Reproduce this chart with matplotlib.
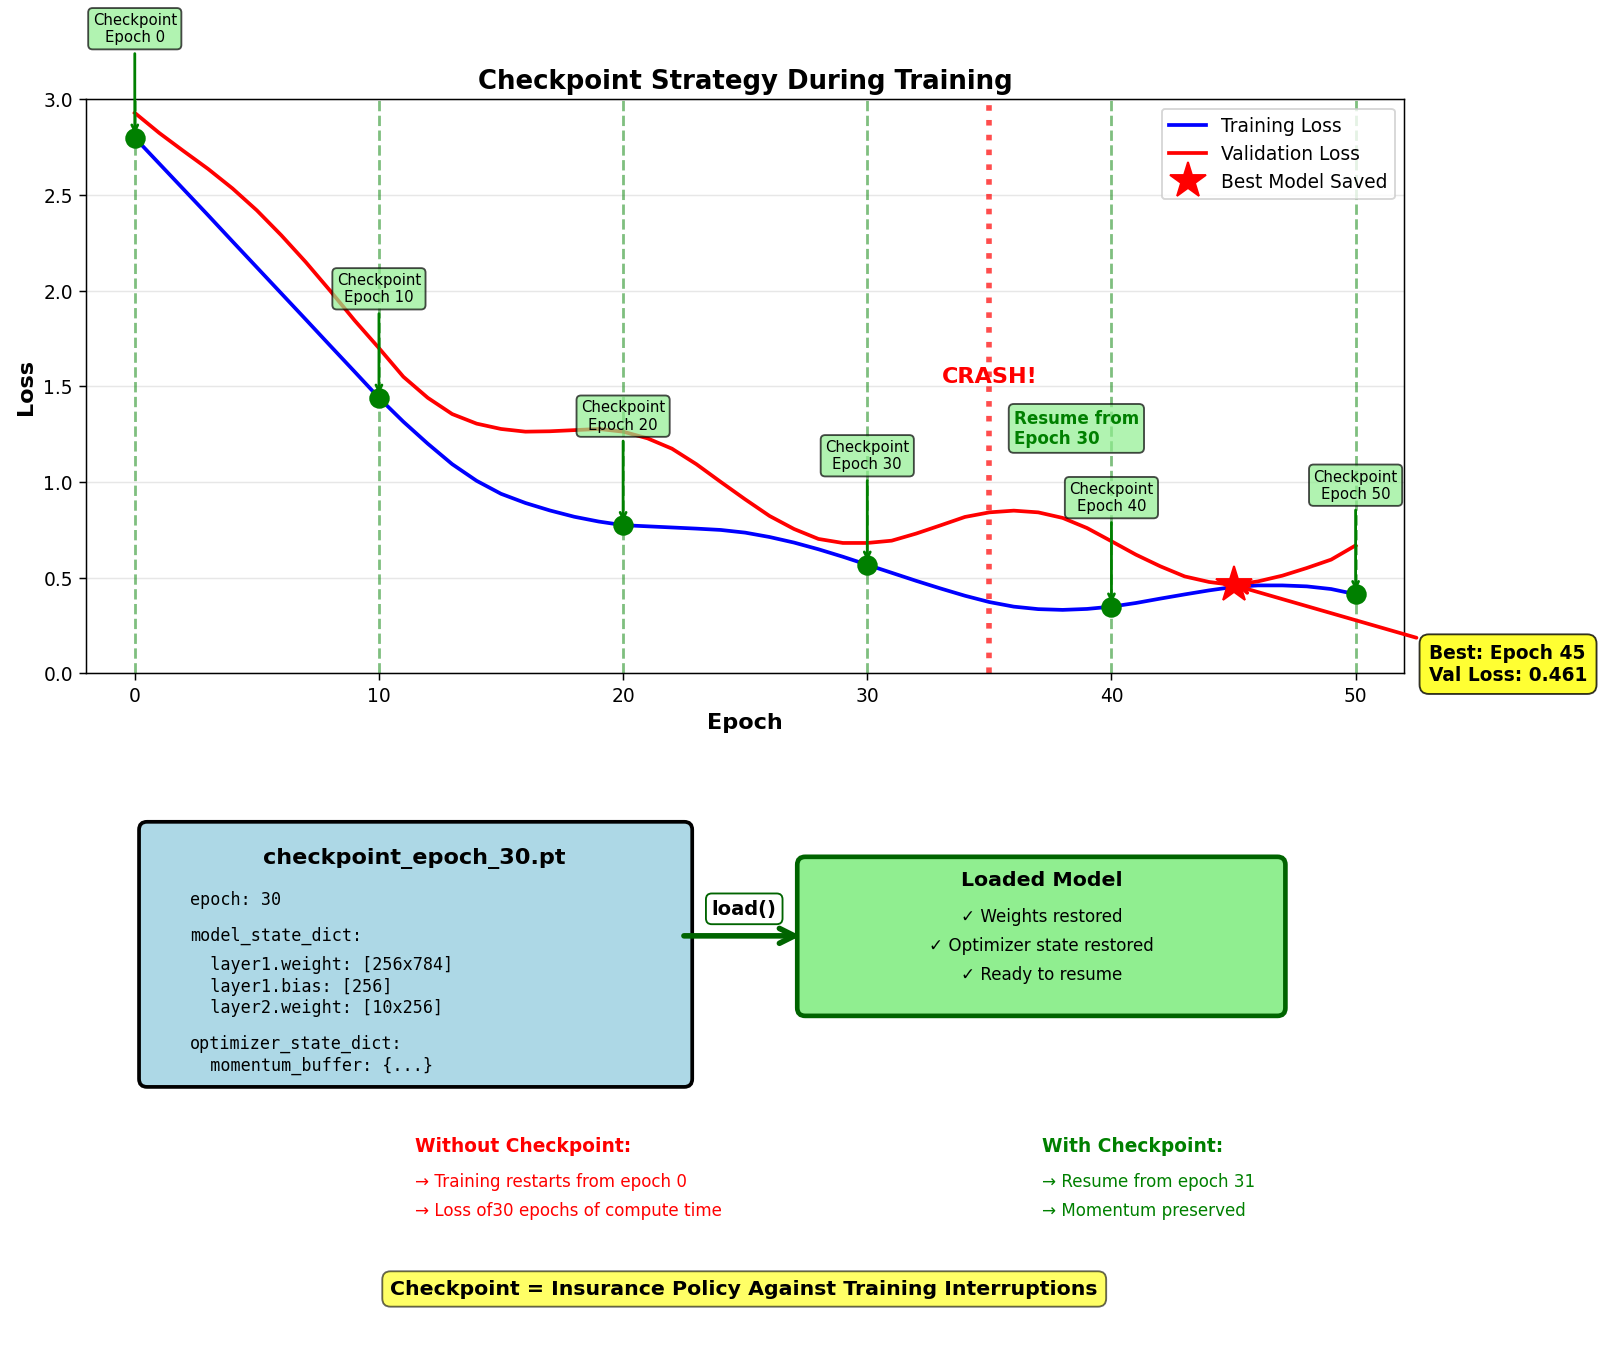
import matplotlib
matplotlib.use("Agg")
import matplotlib.pyplot as plt
from matplotlib.patches import FancyBboxPatch

epochs = list(range(51))
train_loss = [2.80, 2.665, 2.53, 2.395, 2.258, 2.122, 1.986, 1.85, 1.713, 1.577, 1.44,
              1.315, 1.20, 1.093, 1.006, 0.938, 0.89, 0.851, 0.818, 0.793, 0.774,
              0.768, 0.762, 0.756, 0.749, 0.735, 0.712, 0.683, 0.648, 0.609, 0.567,
              0.525, 0.483, 0.443, 0.405, 0.372, 0.348, 0.335, 0.331, 0.336, 0.348,
              0.367, 0.39, 0.412, 0.433, 0.451, 0.459, 0.459, 0.454, 0.44, 0.413]
val_loss = [2.93, 2.825, 2.73, 2.637, 2.535, 2.42, 2.29, 2.15, 2.0, 1.845, 1.70,
            1.55, 1.44, 1.355, 1.305, 1.277, 1.263, 1.265, 1.271, 1.277, 1.263,
            1.228, 1.174, 1.093, 1.0, 0.909, 0.822, 0.754, 0.702, 0.681, 0.681,
            0.693, 0.73, 0.773, 0.817, 0.841, 0.85, 0.841, 0.812, 0.759, 0.69,
            0.62, 0.559, 0.506, 0.477, 0.461, 0.48, 0.51, 0.55, 0.594, 0.668]
checkpoint_epochs = [0, 10, 20, 30, 40, 50]
crash_epoch = 35
resume_epoch = 30

ckpt_file = "checkpoint_epoch_30.pt"
ckpt_lines = ["epoch: 30", "model_state_dict:", "  layer1.weight: [256x784]",
              "  layer1.bias: [256]", "  layer2.weight: [10x256]",
              "optimizer_state_dict:", "  momentum_buffer: {...}"]
loaded_items = ["✓ Weights restored", "✓ Optimizer state restored", "✓ Ready to resume"]
without_items = ["→ Training restarts from epoch 0", "→ Loss of30 epochs of compute time"]
with_items = ["→ Resume from epoch 31", "→ Momentum preserved"]

best_epoch = min(epochs, key=lambda e: val_loss[e])
best_val = val_loss[best_epoch]

DPI = 134
fig = plt.figure(figsize=(1600.5 / DPI, 1345.5 / DPI), dpi=DPI)
ax = fig.add_axes([0.0537, 0.4993, 0.8238, 0.4264])

# --- loss curves ---
ax.plot(epochs, train_loss, color="blue", lw=2, label="Training Loss")
ax.plot(epochs, val_loss, color="red", lw=2, label="Validation Loss")

for e in checkpoint_epochs:
    ax.axvline(e, color="green", linestyle="--", lw=1.5, alpha=0.5)
    ax.annotate(f"Checkpoint\nEpoch {e}", xy=(e, train_loss[e]), xytext=(e, train_loss[e] + 0.57),
                ha="center", va="center", fontsize=8,
                bbox=dict(boxstyle="round,pad=0.3", facecolor="lightgreen", alpha=0.7),
                arrowprops=dict(arrowstyle="->", color="green", lw=1.5))
ax.scatter(checkpoint_epochs, [train_loss[e] for e in checkpoint_epochs],
           color="green", s=100, zorder=5)

ax.axvline(crash_epoch, color="red", linestyle=":", lw=3, alpha=0.7)
ax.text(crash_epoch, 1.55, "CRASH!", color="red", fontsize=12, fontweight="bold",
        ha="center", va="center")
ax.text(crash_epoch + 1, 1.28, f"Resume from\nEpoch {resume_epoch}", color="green", fontsize=9,
        fontweight="bold", ha="left", va="center",
        bbox=dict(boxstyle="round,pad=0.3", facecolor="lightgreen", alpha=0.7))

ax.plot(best_epoch, best_val, "*", color="red", markersize=20, label="Best Model Saved", zorder=6)
ax.annotate(f"Best: Epoch {best_epoch}\nVal Loss: {best_val:.3f}", xy=(best_epoch, best_val),
            xytext=(best_epoch + 8, best_val - 0.5), fontsize=10, fontweight="bold",
            bbox=dict(boxstyle="round,pad=0.5", facecolor="yellow", alpha=0.8),
            arrowprops=dict(arrowstyle="->", color="red", lw=2))

ax.set_xlim(-2, 52)
ax.set_ylim(0, 3)
ax.set_xlabel("Epoch", fontsize=12, fontweight="bold")
ax.set_ylabel("Loss", fontsize=12, fontweight="bold")
ax.set_title("Checkpoint Strategy During Training", fontsize=14, fontweight="bold")
ax.legend(loc="upper right", fontsize=10)
ax.grid(axis="y", alpha=0.3)

# --- checkpoint contents diagram (pixel units) ---
ax2 = fig.add_axes([0, 0, 1, 1])
ax2.set_xlim(0, 1600)
ax2.set_ylim(1345, 0)
ax2.axis("off")

ax2.add_patch(FancyBboxPatch((139, 822), 553, 265, boxstyle="round,pad=0,rounding_size=8",
                             facecolor="lightblue", edgecolor="black", lw=2))
ax2.text(414, 858, ckpt_file, fontsize=12, fontweight="bold", ha="center", va="center")
line_y = [900, 936, 965, 987, 1008, 1043, 1065]
for txt, y in zip(ckpt_lines, line_y):
    ax2.text(190, y, txt, fontsize=9, family="monospace", ha="left", va="center")

ax2.annotate("", xy=(804, 936), xytext=(680, 936),
             arrowprops=dict(arrowstyle="->", color="darkgreen", lw=3, mutation_scale=20))
ax2.text(744, 909, "load()", fontsize=10.5, fontweight="bold", ha="center", va="center",
         bbox=dict(boxstyle="round,pad=0.3", facecolor="white", edgecolor="darkgreen"))

ax2.add_patch(FancyBboxPatch((797, 857), 488, 159, boxstyle="round,pad=0,rounding_size=8",
                             facecolor="lightgreen", edgecolor="darkgreen", lw=2.5))
ax2.text(1041, 880, "Loaded Model", fontsize=11, fontweight="bold", ha="center", va="center")
for i, txt in enumerate(loaded_items):
    ax2.text(1041, 917 + i * 29, txt, fontsize=9, ha="center", va="center")

ax2.text(415, 1146, "Without Checkpoint:", color="red", fontsize=10, fontweight="bold", va="center")
for i, txt in enumerate(without_items):
    ax2.text(415, 1182 + i * 29, txt, color="red", fontsize=9, va="center")
ax2.text(1042, 1146, "With Checkpoint:", color="green", fontsize=10, fontweight="bold", va="center")
for i, txt in enumerate(with_items):
    ax2.text(1042, 1182 + i * 29, txt, color="green", fontsize=9, va="center")

ax2.text(744, 1289, "Checkpoint = Insurance Policy Against Training Interruptions",
         fontsize=11, fontweight="bold", ha="center", va="center",
         bbox=dict(boxstyle="round,pad=0.4", facecolor="yellow", alpha=0.6))

fig.savefig("out.png", dpi=DPI)
